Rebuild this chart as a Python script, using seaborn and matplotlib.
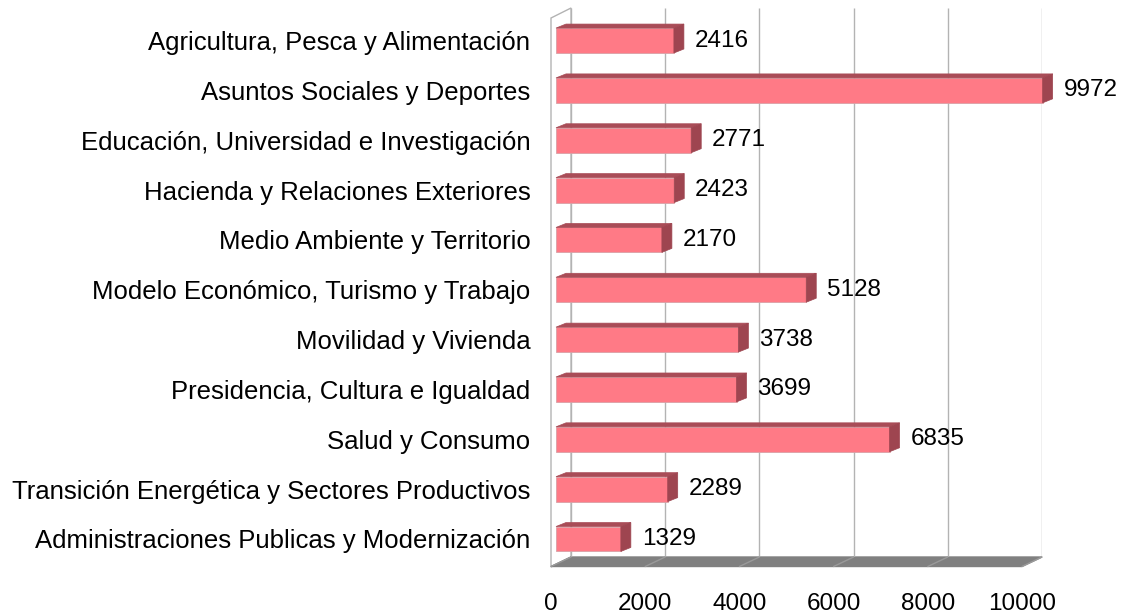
import numpy as np
import pandas as pd
import seaborn as sns
import matplotlib.pyplot as plt
from matplotlib.patches import Polygon
from matplotlib.transforms import IdentityTransform

categorias = ['Agricultura, Pesca y Alimentación',
              'Asuntos Sociales y Deportes',
              'Educación, Universidad e Investigación',
              'Hacienda y Relaciones Exteriores',
              'Medio Ambiente y Territorio',
              'Modelo Económico, Turismo y Trabajo',
              'Movilidad y Vivienda',
              'Presidencia, Cultura e Igualdad',
              'Salud y Consumo',
              'Transición Energética y Sectores Productivos',
              'Administraciones Publicas y Modernización']
valores = [2416, 9972, 2771, 2423, 2170, 5128, 3738, 3699, 6835, 2289, 1329]
ticks = [0, 2000, 4000, 6000, 8000, 10000]

df = pd.DataFrame({'consejeria': categorias, 'total': valores})

sns.set_style('white')
plt.rcParams['font.family'] = ['Liberation Sans', 'DejaVu Sans']
plt.rcParams['text.color'] = 'black'
plt.rcParams['ytick.color'] = 'black'

W, H = 1133, 613
fig = plt.figure(figsize=(W / 100, H / 100), dpi=100)


def px_axes(left, top, right, bottom):
    return fig.add_axes([left / W, 1 - bottom / H, (right - left) / W, (bottom - top) / H])


frente = '#ff7a86'
lado = '#9e4550'
techo = '#a94c57'
rejilla = '#b3b3b3'

# pared del fondo + suelo
ax_w = px_axes(571, 8, 1042, 557)
ax_w.set_xlim(0, 10000)
ax_w.set_ylim(0, 1)
ax_w.axis('off')
ax_w.vlines(ticks, 0, 1, color=rejilla, lw=1)

d_pared = np.array([-20, -10])
d_suelo = np.array([-20, -9.5])
bl = ax_w.transData.transform((0, 0))
br = ax_w.transData.transform((10000, 0))
tl = ax_w.transData.transform((0, 1))
ax_w.add_patch(Polygon([bl, tl, tl + d_pared, bl + d_pared], closed=True, facecolor='white',
                       edgecolor=rejilla, lw=1, transform=IdentityTransform(), clip_on=False))
ax_w.add_patch(Polygon([bl, br, br + d_suelo, bl + d_suelo], closed=True, facecolor='#808080',
                       edgecolor='#808080', lw=1, transform=IdentityTransform(), clip_on=False))
for t in ticks:
    p = ax_w.transData.transform((t, 0))
    q = p + d_suelo
    ax_w.plot([p[0], q[0]], [p[1], q[1]], color='#9a9a9a', lw=1,
              transform=IdentityTransform(), clip_on=False)
    ax_w.text(q[0], q[1] - 37, str(t), ha='center', va='center', fontsize=17.5,
              transform=IdentityTransform())

# barras
ax = px_axes(556, 15.6, 1044, 563.9)
sns.barplot(data=df, x='total', y='consejeria', orient='h', color=frente, saturation=1,
            width=0.5, edgecolor='#d9a0a6', linewidth=0.6, ax=ax)
ax.set_xlim(0, 10000)
ax.set_ylim(len(categorias) - 0.5, -0.5)
ax.patch.set_alpha(0)
for s in ax.spines.values():
    s.set_visible(False)
ax.set_xticks([])
ax.set_xlabel('')
ax.set_ylabel('')
ax.tick_params(axis='y', length=0, pad=18.5, labelsize=18.5)

dx, dy = 10, 4
for p in ax.patches:
    a = ax.transData.transform((p.get_x(), p.get_y()))
    b = ax.transData.transform((p.get_x() + p.get_width(), p.get_y() + p.get_height()))
    x0, x1 = min(a[0], b[0]), max(a[0], b[0])
    y0, y1 = min(a[1], b[1]), max(a[1], b[1])
    ax.add_patch(Polygon([(x0, y1), (x1, y1), (x1 + dx, y1 + dy), (x0 + dx, y1 + dy)], closed=True,
                         facecolor=techo, edgecolor=techo, lw=0.5, transform=IdentityTransform(),
                         clip_on=False))
    ax.add_patch(Polygon([(x1, y0), (x1, y1), (x1 + dx, y1 + dy), (x1 + dx, y0 + dy)], closed=True,
                         facecolor=lado, edgecolor=lado, lw=0.5, transform=IdentityTransform(),
                         clip_on=False))

ax.bar_label(ax.containers[0], labels=[str(v) for v in valores], padding=15, fontsize=17.5)

fig.savefig('out.png', dpi=100)
